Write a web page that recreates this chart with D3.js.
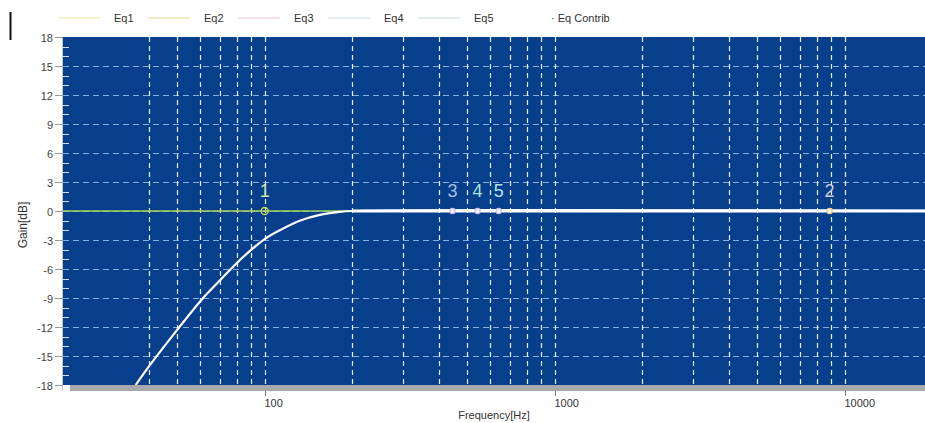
<!DOCTYPE html>
<html>
<head>
<meta charset="utf-8">
<script src="https://cdn.jsdelivr.net/npm/d3@7"></script>
<style>
  body { margin: 0; background: #fff; }
  svg text { font-family: "Liberation Sans", Arial, sans-serif; }
</style>
</head>
<body>
<div id="chart"></div>
<script>
// legend entries
const LEGEND_NAMES = ["Eq1", "Eq2", "Eq3", "Eq4", "Eq5"];
const LEGEND_COLORS = ["#efefbd", "#f1e3b6", "#f0d9d9", "#dde7ee", "#dbe9dc"];

// axis ticks
const Y_TICKS = [18, 15, 12, 9, 6, 3, 0, -3, -6, -9, -12, -15, -18];
const X_TICKS = [100, 1000, 10000];
const GRID_FREQS = [40, 50, 60, 70, 80, 90, 100, 200, 300, 400, 500, 600, 700, 800, 900,
    1000, 2000, 3000, 4000, 5000, 6000, 7000, 8000, 9000, 10000];

// combined response (high pass)
const CURVE_FREQ = [35.9, 39.6, 49.6, 60.5, 70, 80, 90, 100, 112.6, 132, 155, 181, 200, 20000];
const CURVE_GAIN = [-18, -16.2, -12.4, -9.2, -7.2, -5.4, -4.0, -2.9, -2.0, -1.0, -0.4, -0.1, 0, 0];

// eq points
const POINT_LABELS = ["1", "3", "4", "5", "2"];
const POINT_FREQ = [100, 444, 542, 641, 8870];
const POINT_GAIN = [0, 0, 0, 0, 0];
const POINT_TEXT_COLORS = ["#cfe7a4", "#a9bde6", "#a6e3d6", "#b3e0e6", "#d4ccdc"];
const POINT_RING_COLORS = ["#c7dc5a", "#c9c4e6", "#c9c4e6", "#c9c4e6", "#e8d27a"];

const width = 925, height = 423;
const plotLeft = 63, plotTop = 37, plotBottom = 385;

const svg = d3.select("#chart").append("svg")
    .attr("width", width)
    .attr("height", height);

const x = d3.scaleLog().domain([20, 20000]).range([62, 932]);
const y = d3.scaleLinear().domain([-18, 18]).range([plotBottom, plotTop]);

// legend
const legend = svg.append("g").attr("transform", "translate(0,18)");
LEGEND_NAMES.forEach((name, i) => {
    const lx = 58 + i * 90;
    legend.append("line")
        .attr("x1", lx).attr("x2", lx + 42)
        .attr("y1", 0).attr("y2", 0)
        .attr("stroke", LEGEND_COLORS[i])
        .attr("stroke-width", 1.5);
    legend.append("text")
        .attr("x", lx + 56).attr("y", 4)
        .attr("font-size", 11)
        .attr("fill", "#333")
        .text(name);
});
legend.append("text")
    .attr("x", 551).attr("y", 4)
    .attr("font-size", 11)
    .attr("fill", "#333")
    .text("· Eq Contrib");

// stray cursor mark top left
svg.append("line")
    .attr("x1", 10.5).attr("x2", 10.5)
    .attr("y1", 12).attr("y2", 40)
    .attr("stroke", "#111")
    .attr("stroke-width", 2);

// plot background
svg.append("rect")
    .attr("x", plotLeft).attr("y", plotTop)
    .attr("width", width - plotLeft)
    .attr("height", plotBottom - plotTop)
    .attr("fill", "#073f8d");

// grey strip under the plot
svg.append("rect")
    .attr("x", 70).attr("y", plotBottom)
    .attr("width", width - 70).attr("height", 6)
    .attr("fill", "#a7a9ac");

const clip = svg.append("defs").append("clipPath").attr("id", "plotclip");
clip.append("rect")
    .attr("x", plotLeft).attr("y", plotTop)
    .attr("width", width - plotLeft)
    .attr("height", plotBottom - plotTop);

const plot = svg.append("g").attr("clip-path", "url(#plotclip)");

// horizontal grid
plot.selectAll(".hgrid")
    .data(Y_TICKS.filter(d => Math.abs(d) < 18))
    .enter().append("line")
    .attr("class", "hgrid")
    .attr("x1", plotLeft).attr("x2", width)
    .attr("y1", d => Math.round(y(d)) + 0.5)
    .attr("y2", d => Math.round(y(d)) + 0.5)
    .attr("stroke", "#7fb0e0")
    .attr("stroke-width", 1)
    .attr("stroke-dasharray", "6,4");

// vertical grid
plot.selectAll(".vgrid")
    .data(GRID_FREQS)
    .enter().append("line")
    .attr("class", "vgrid")
    .attr("x1", d => Math.round(x(d)) + 0.5)
    .attr("x2", d => Math.round(x(d)) + 0.5)
    .attr("y1", plotTop).attr("y2", plotBottom)
    .attr("stroke", "#e4f6fb")
    .attr("stroke-width", 1.2)
    .attr("stroke-dasharray", "5,4");

// minor y ticks inside the plot
const minor = d3.range(-17, 18).filter(d => d % 3 !== 0);
plot.selectAll(".minor")
    .data(minor)
    .enter().append("line")
    .attr("x1", plotLeft).attr("x2", plotLeft + 6)
    .attr("y1", d => Math.round(y(d)) + 0.5)
    .attr("y2", d => Math.round(y(d)) + 0.5)
    .attr("stroke", "#d0e4f4")
    .attr("stroke-width", 1);

// flat eq line at 0 dB
plot.append("line")
    .attr("x1", plotLeft).attr("x2", width)
    .attr("y1", y(0)).attr("y2", y(0))
    .attr("stroke", "#a9d45a")
    .attr("stroke-width", 1.5);

// combined curve
const curveData = CURVE_FREQ.map((f, i) => ({ f: f, g: CURVE_GAIN[i] }));
const line = d3.line()
    .x(d => x(d.f))
    .y(d => y(d.g))
    .curve(d3.curveCatmullRom.alpha(0.5));

plot.append("path")
    .datum(curveData)
    .attr("fill", "none")
    .attr("stroke", "#ffffff")
    .attr("stroke-width", 2.2)
    .attr("d", line);

plot.append("path")
    .datum(curveData.filter(d => d.f >= 200))
    .attr("fill", "none")
    .attr("stroke", "#ffffff")
    .attr("stroke-width", 3)
    .attr("d", line);

// eq points with numbers
POINT_LABELS.forEach((lab, i) => {
    const px = x(POINT_FREQ[i]);
    const py = y(POINT_GAIN[i]);
    plot.append("circle")
        .attr("cx", px).attr("cy", py)
        .attr("r", i === 0 ? 3.5 : 2.6)
        .attr("fill", i === 0 ? "none" : "#f4f0ff")
        .attr("stroke", POINT_RING_COLORS[i])
        .attr("stroke-width", 1.3);
    plot.append("text")
        .attr("x", px).attr("y", py - 14)
        .attr("text-anchor", "middle")
        .attr("font-size", 18)
        .attr("fill", POINT_TEXT_COLORS[i])
        .text(lab);
});

// y axis
const yAxis = svg.append("g");
yAxis.append("line")
    .attr("x1", plotLeft - 0.5).attr("x2", plotLeft - 0.5)
    .attr("y1", plotTop).attr("y2", plotBottom + 6)
    .attr("stroke", "#c8c8c8");
Y_TICKS.forEach(t => {
    const ty = Math.round(y(t)) + 0.5;
    yAxis.append("line")
        .attr("x1", plotLeft - 8).attr("x2", plotLeft)
        .attr("y1", ty).attr("y2", ty)
        .attr("stroke", "#999");
    yAxis.append("text")
        .attr("x", plotLeft - 10).attr("y", ty + 4)
        .attr("text-anchor", "end")
        .attr("font-size", 11)
        .attr("fill", "#444")
        .text(t);
});

// x axis
const xAxis = svg.append("g");
X_TICKS.forEach(t => {
    const tx = Math.round(x(t)) + 0.5;
    xAxis.append("line")
        .attr("x1", tx).attr("x2", tx)
        .attr("y1", plotBottom + 6).attr("y2", plotBottom + 11)
        .attr("stroke", "#777");
    xAxis.append("text")
        .attr("x", tx - 1).attr("y", plotBottom + 22)
        .attr("font-size", 11)
        .attr("fill", "#333")
        .text(t);
});

svg.append("text")
    .attr("x", 494).attr("y", 419)
    .attr("text-anchor", "middle")
    .attr("font-size", 11)
    .attr("fill", "#333")
    .text("Frequency[Hz]");

svg.append("text")
    .attr("transform", "translate(27,225) rotate(-90)")
    .attr("text-anchor", "middle")
    .attr("font-size", 12)
    .attr("fill", "#333")
    .text("Gain[dB]");
</script>
</body>
</html>
